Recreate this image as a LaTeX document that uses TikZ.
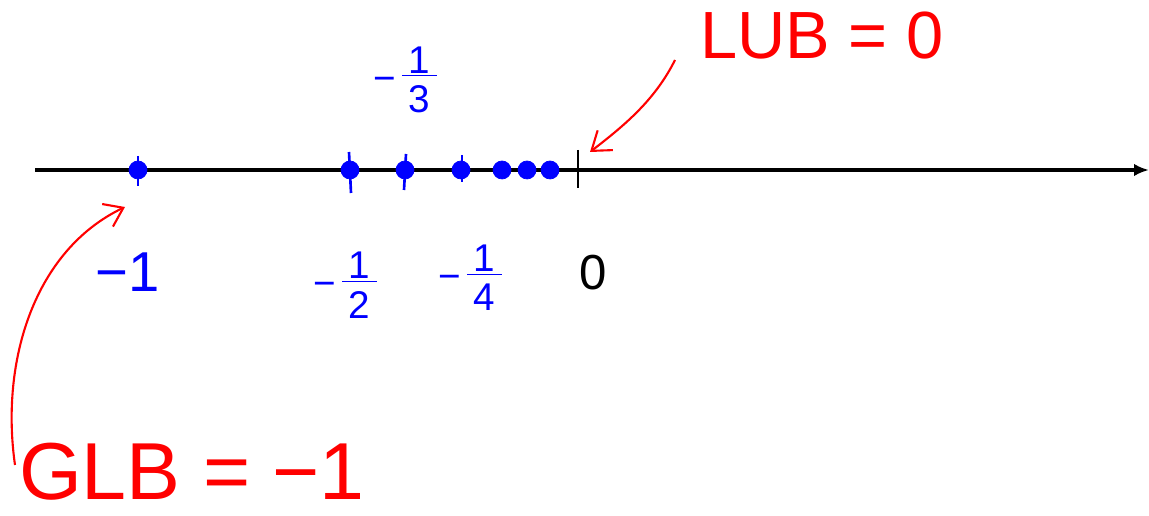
\documentclass[tikz,border=0pt]{standalone}
\usepackage{fontspec}
\setmainfont{Liberation Sans}
\usepackage{tikz}
\usetikzlibrary{
  positioning, calc, arrows.meta
}
\newcommand{\negfrac}[2]{−\,\raisebox{-0.55em}{\shortstack{\underline{\,#1\,}\\[0.1em]#2}}}
\tikzset{
	bluetext/.style={font=\fontsize{32}{34}\selectfont\color{blue}}
}
\tikzset{
	fractext/.style={font=\fontsize{22}{24}\selectfont\color{blue}}
}
\tikzset{
	redtext/.style={font=\fontsize{38}{40}\selectfont\color{red}}
}
\tikzset{
	dotnode/.style={circle, draw=blue, fill=blue, inner sep=0pt, minimum size=0.36cm}
}
\tikzset{
	redarrow/.style={red, line width=1.2pt, -{Straight Barb[length=0.35cm, width=0.5cm]}}
}

\begin{document}
\begin{tikzpicture}[x=0.02cm, y=-0.02cm]

			\useasboundingbox (0,0) rectangle (1149,516);

			\begin{scope}
				\coordinate (axL) at (35,170);
				\coordinate (axR) at (1149,170);
				\draw[line width=2.8pt, -{Latex[length=0.3cm, width=0.25cm]}] (axL) -- (axR);
				\draw[line width=1.2pt] (578,150) -- (578,188);
			\end{scope}

			\begin{scope}
				\node[dotnode] (pA) at (138,170) {};
				\node[dotnode] (pB) at (350,170) {};
				\node[dotnode] (pC) at (405,170) {};
				\node[dotnode] (pD) at (461,170) {};
				\node[dotnode] (pE) at (502,170) {};
				\node[dotnode] (pF) at (527,170) {};
				\node[dotnode] (pG) at (550,170) {};

				\draw[blue, line width=1.5pt] (138,156) -- (138,186);
				\draw[blue, line width=1.5pt] (349,152) -- (351,193);
				\draw[blue, line width=1.5pt] (406,154) -- (404,190);
				\draw[blue, line width=1.5pt] (462,155) -- (462,182);
			\end{scope}

			\begin{scope}
				\node[bluetext] (lA) at (128,272) {−1};
				\node[fractext] (lB) at (345,285) {\negfrac{1}{2}};
				\node[fractext] (lC) at (405,80) {\negfrac{1}{3}};
				\node[fractext] (lD) at (470,278) {\negfrac{1}{4}};
				\node[font=\fontsize{28}{30}\selectfont] (lO) at (593,273) {0};
			\end{scope}

			\node[redtext] (lub) at (822,36) {LUB = 0};
			\node[redtext, font=\fontsize{46}{48}\selectfont\color{red}] (glb) at (192,472) {GLB = −1};

			\draw[redarrow] (675,60) .. controls (655,100) and (625,125) .. (590,152);
			\draw[redarrow] (15,465) .. controls (0,360) and (35,250) .. (125,207);

		\end{tikzpicture}
\end{document}
